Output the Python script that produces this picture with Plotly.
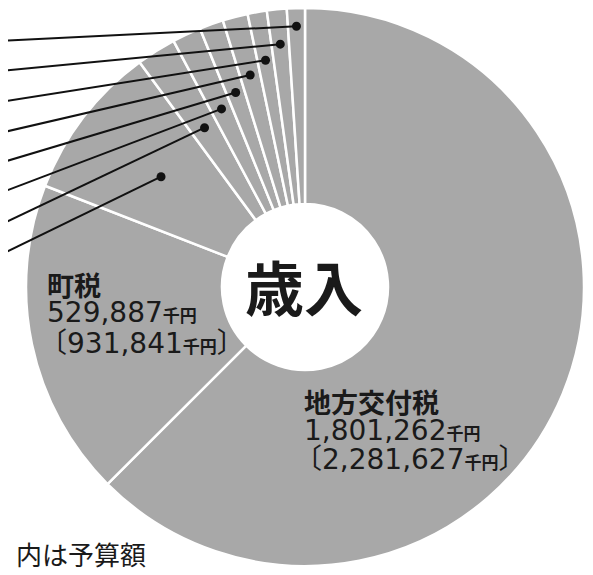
import math
import plotly.graph_objects as go

# ---- data (values in 千円) ----
categories = ["地方交付税", "町税", "項目3", "項目4", "項目5", "項目6",
              "項目7", "項目8", "項目9", "項目10"]
values = [1801262, 529887, 259000, 66000, 48000, 40000, 42000, 32000, 33000, 30000]
budget_main = {"地方交付税": 2281627, "町税": 931841}

# ---- layout constants (page pixels) ----
W, H = 593, 575
OFF = 8                      # browser body margin: figure starts at page (8, 8)
CX, CY, R = 305, 287, 279    # donut centre / radius in page pixels
HOLE = 83 / 279
GRAY = "#a8a8a8"
# leader dots: radius fraction for slices 3..10, left-edge y of each leader line
dot_r = [0.65, 0.675, 0.705, 0.74, 0.785, 0.825, 0.875, 0.935]
leader_y = [255, 225, 193, 163, 133, 102, 71, 41]

fcx, fcy = CX - OFF, CY - OFF   # centre in figure pixels

fig = go.Figure()

fig.add_trace(go.Pie(
    labels=categories, values=values, sort=False, direction="clockwise",
    rotation=0, hole=HOLE, textinfo="none", showlegend=False,
    marker=dict(colors=[GRAY] * len(values), line=dict(color="white", width=2.5)),
    domain=dict(x=[(fcx - R) / W, (fcx + R) / W],
                y=[max(0, (H - fcy - R) / H), min(1, (H - fcy + R) / H)]),
    hoverinfo="label+value",
))
# invisible trace so that page-pixel axes exist for the overlays
fig.add_trace(go.Scatter(x=[], y=[], showlegend=False))

# leader lines + dots computed from slice mid-angles
total = sum(values)
cum = 0
mids = []
for v in values:
    mids.append((cum + v / 2) / total * 360)
    cum += v
shapes = []
for ang, rf, ly in zip(mids[2:], dot_r, leader_y):
    a = math.radians(ang)
    px = CX + R * rf * math.sin(a)
    py = CY - R * rf * math.cos(a)
    shapes.append(dict(type="line", xref="x", yref="y", x0=0, y0=ly, x1=px, y1=py,
                       line=dict(color="#111", width=2), layer="above"))
    shapes.append(dict(type="circle", xref="x", yref="y", x0=px - 4.5, x1=px + 4.5,
                       y0=py - 4.5, y1=py + 4.5, fillcolor="#111",
                       line=dict(width=0), layer="above"))

CJK = "Noto Sans CJK JP"
NUM = "DejaVu Sans, Noto Sans CJK JP"
TXT = "#1a1a1a"

def yen(n, bracket=False):
    s = f"{n:,}<span style='font-size:17px;font-weight:bold'>千円</span>"
    return f"〔{s}〕" if bracket else s

ann = []
def add(x, y, text, size, family, bold=False, xanchor="left"):
    ann.append(dict(x=x, y=y, xref="x", yref="y", text=f"<b>{text}</b>" if bold else text,
                    showarrow=False, xanchor=xanchor, yanchor="middle",
                    font=dict(size=size, family=family, color=TXT)))

add(304, 285, "歳入", 59, CJK, bold=True, xanchor="center")
add(45, 284, categories[1], 27, CJK, bold=True)
add(45, 312, yen(values[1]), 28, NUM)
add(37, 343, yen(budget_main[categories[1]], True), 28, NUM)
add(302, 401, categories[0], 27, CJK, bold=True)
add(302, 430, yen(values[0]), 28, NUM)
add(292, 459, yen(budget_main[categories[0]], True), 28, NUM)
add(14, 553, "内は予算額", 26, CJK)

fig.update_layout(
    width=W, height=H, margin=dict(l=0, r=0, t=0, b=0),
    paper_bgcolor="white", plot_bgcolor="rgba(0,0,0,0)",
    xaxis=dict(range=[OFF, OFF + W], visible=False, domain=[0, 1], fixedrange=True),
    yaxis=dict(range=[OFF + H, OFF], visible=False, domain=[0, 1], fixedrange=True),
    shapes=shapes, annotations=ann,
)
fig.write_html("out.html")
